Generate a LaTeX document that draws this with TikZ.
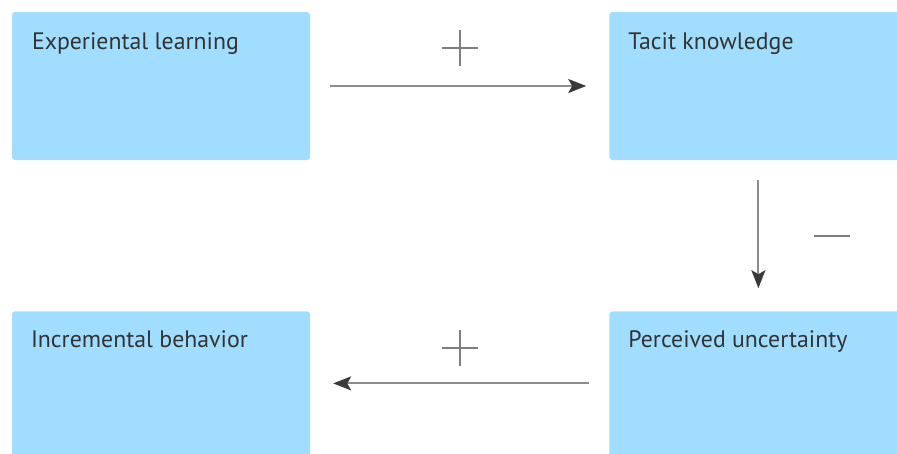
\documentclass[tikz,border=0pt]{standalone}
\usepackage{fontspec}
\setmainfont{PT Sans}
\usetikzlibrary{arrows.meta,positioning}

\definecolor{boxblue}{HTML}{A0DDFE}
\definecolor{linegray}{HTML}{8C8C8C}
\definecolor{tipgray}{HTML}{3A3A3A}
\definecolor{textgray}{HTML}{333333}

\begin{document}
\begin{tikzpicture}[x=1pt,y=-1pt,node distance=151pt and 299pt,
  >={Stealth[length=18pt,width=14pt,inset=4pt,color=tipgray]},
  factor/.style={rectangle,fill=boxblue,rounded corners=3pt,
    minimum width=298pt,minimum height=148pt,inner sep=0pt},
  title/.style={anchor=base west,inner sep=0pt,text=textgray,font=\fontsize{23.8}{28}\selectfont},
  link/.style={->,draw=linegray,line width=2pt,shorten <=20pt,shorten >=23pt},
  sign/.style={draw=linegray!90!black,line width=2pt}]

  \path[use as bounding box,clip] (0,0) rectangle (897,453);

  \node[factor] (el) at (161,86) {};
  \node[factor] (tk) [right=of el] {};
  \node[factor] (il) [below=of el] {};
  \node[factor] (pu) [right=of il] {};

  \node[title] (elt) at ([shift={(20,38)}]el.north west) {Experiental learning};
  \node[title] (tkt) at ([shift={(19,38)}]tk.north west) {Tacit knowledge};
  \node[title] (ilt) at ([shift={(19,36)}]il.north west) {Incremental behavior};
  \node[title] (put) at ([shift={(19,36)}]pu.north west) {Perceived uncertainty};

  \path
    (el) edge[link] node [coordinate,above=38pt] (s1) {} (tk)
    (tk) edge[link] node [coordinate,right=74pt] (s2) {} (pu)
    ([yshift=2pt]pu.west) edge[link] node [coordinate,above=35pt] (s3) {} ([yshift=2pt]il.east);

  % polarity marks
  \draw[sign] ([xshift=-18pt]s1) -- ([xshift=18pt]s1)
              ([yshift=-18pt]s1) -- ([yshift=18pt]s1);
  \draw[sign] ([xshift=-18pt]s2) -- ([xshift=18pt]s2);
  \draw[sign] ([xshift=-18pt]s3) -- ([xshift=18pt]s3)
              ([yshift=-18pt]s3) -- ([yshift=18pt]s3);
\end{tikzpicture}
\end{document}
